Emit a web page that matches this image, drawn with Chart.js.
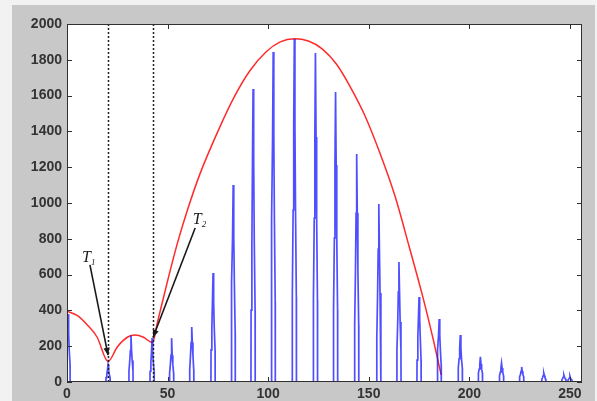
<!DOCTYPE html>
<html>
<head>
<meta charset="utf-8">
<script src="https://cdn.jsdelivr.net/npm/chart.js@4.4.1/dist/chart.umd.min.js"></script>
<style>
  html, body { margin: 0; padding: 0; background: #f2f2f2; }
  #wrap { position: absolute; left: 0; top: 0; width: 597px; height: 401px; }
</style>
</head>
<body>
<div id="wrap"><canvas id="spectrumChart" width="597" height="401"></canvas></div>
<script>
// spike clusters (centre, peak and the three shoulder levels)
const spikeCenters = [0.5, 20.4, 31.8, 42.3, 52, 62, 72.6, 82.6, 92.5, 102.5, 113, 123.5, 133.5, 144, 155, 165, 175, 185, 195.5, 205.5, 216, 226, 237, 247, 250];
const spikePeaks   = [380, 95, 260, 245, 245, 307, 609, 1100, 1637, 1844, 1916, 1838, 1620, 1274, 994, 670, 475, 352, 263, 140, 106, 84, 50, 39, 33];
const spikeMids    = [280, 65, 175, 165, 150, 220, 447, 810, 1229, 1374, 1436, 1369, 1212, 944, 743, 503, 358, 263, 190, 100, 78, 60, 36, 28, 22];
const spikeLows    = [180, 45, 120, 110, 100, 150, 300, 553, 776, 905, 961, 916, 804, 626, 497, 335, 251, 180, 130, 72, 55, 42, 25, 20, 15];
const spikeBases   = [100, 25, 60, 60, 50, 67, 179, 274, 402, 447, 475, 458, 402, 318, 246, 179, 123, 95, 78, 50, 35, 30, 15, 12, 10];

// red envelope curve
const envX = [0, 5, 10, 15, 20.4, 25, 30, 34, 38, 42.5, 45, 50, 55, 60, 66, 75, 83, 91, 99, 106, 113, 120, 127, 134, 141, 148, 156, 163, 170, 177, 182, 186];
const envY = [395, 372, 320, 250, 115, 196, 250, 262, 250, 220, 335, 565, 780, 965, 1160, 1400, 1590, 1740, 1845, 1900, 1918, 1905, 1860, 1775, 1645, 1490, 1265, 1040, 760, 470, 240, 40];

// dashed markers T1, T2
const markerX = [20.3, 42.6];

const xTickValues = [0, 50, 100, 150, 200, 250];
const yTickValues = [0, 200, 400, 600, 800, 1000, 1200, 1400, 1600, 1800, 2000];

// build the blue line from the cluster readings
const spikePoints = [];
spikeCenters.forEach((c, i) => {
    spikePoints.push({ x: c - 1.05, y: 0 });
    spikePoints.push({ x: c - 1.0, y: spikeBases[i] });
    spikePoints.push({ x: c - 0.6, y: spikeLows[i] });
    spikePoints.push({ x: c - 0.3, y: spikeMids[i] });
    spikePoints.push({ x: c, y: spikePeaks[i] });
    spikePoints.push({ x: c + 0.3, y: spikeMids[i] });
    spikePoints.push({ x: c + 0.6, y: spikeLows[i] });
    spikePoints.push({ x: c + 1.0, y: spikeBases[i] });
    spikePoints.push({ x: c + 1.05, y: 0 });
});
spikePoints.push({ x: 256, y: 0 });

const envPoints = envX.map((x, i) => ({ x: x, y: envY[i] }));

// matlab-ish frame: gray figure, white axes, inner ticks, dotted markers, arrows
const framePlugin = {
    id: 'frame',
    beforeDraw(chart) {
        const ctx = chart.ctx;
        const a = chart.chartArea;
        ctx.save();
        ctx.fillStyle = '#c8c8c8';
        ctx.fillRect(12, 5, 583, 396);
        ctx.fillStyle = '#ffffff';
        ctx.fillRect(a.left, a.top, a.right - a.left, a.bottom - a.top);
        ctx.restore();
    },
    afterDatasetsDraw(chart) {
        const ctx = chart.ctx;
        const a = chart.chartArea;
        const xs = chart.scales.x;
        const ys = chart.scales.y;
        ctx.save();

        // dotted vertical markers
        ctx.strokeStyle = '#202020';
        ctx.lineWidth = 1.5;
        ctx.setLineDash([2, 2]);
        markerX.forEach(v => {
            const px = Math.round(xs.getPixelForValue(v)) + 0.5;
            ctx.beginPath();
            ctx.moveTo(px, a.top);
            ctx.lineTo(px, a.bottom);
            ctx.stroke();
        });
        ctx.setLineDash([]);

        // arrows
        const arrow = (x0, y0, x1, y1) => {
            const p0x = xs.getPixelForValue(x0), p0y = ys.getPixelForValue(y0);
            const p1x = xs.getPixelForValue(x1), p1y = ys.getPixelForValue(y1);
            const ang = Math.atan2(p1y - p0y, p1x - p0x);
            ctx.strokeStyle = '#1a1a1a';
            ctx.fillStyle = '#1a1a1a';
            ctx.lineWidth = 1.6;
            ctx.beginPath();
            ctx.moveTo(p0x, p0y);
            ctx.lineTo(p1x, p1y);
            ctx.stroke();
            ctx.beginPath();
            ctx.moveTo(p1x, p1y);
            ctx.lineTo(p1x - 8 * Math.cos(ang - 0.4), p1y - 8 * Math.sin(ang - 0.4));
            ctx.lineTo(p1x - 8 * Math.cos(ang + 0.4), p1y - 8 * Math.sin(ang + 0.4));
            ctx.closePath();
            ctx.fill();
        };
        arrow(11.4, 654, 20.4, 150);
        arrow(63.7, 860, 42.8, 250);

        // labels T1, T2
        const label = (x, y, sub) => {
            const px = xs.getPixelForValue(x), py = ys.getPixelForValue(y);
            ctx.fillStyle = '#1a1a1a';
            ctx.textBaseline = 'alphabetic';
            ctx.textAlign = 'left';
            ctx.font = 'italic 16px "Liberation Serif"';
            ctx.fillText('T', px, py);
            ctx.font = 'italic 9px "Liberation Serif"';
            ctx.fillText(sub, px + 9, py + 3);
        };
        label(7.5, 672, '1');
        label(62.5, 885, '2');

        // axes box
        ctx.strokeStyle = '#303030';
        ctx.lineWidth = 1;
        ctx.strokeRect(a.left + 0.5, a.top + 0.5, a.right - a.left - 1, a.bottom - a.top - 1);

        // inner ticks on all four sides
        ctx.beginPath();
        xTickValues.forEach(v => {
            const px = Math.round(xs.getPixelForValue(v)) + 0.5;
            ctx.moveTo(px, a.bottom);
            ctx.lineTo(px, a.bottom - 5);
            ctx.moveTo(px, a.top);
            ctx.lineTo(px, a.top + 5);
        });
        yTickValues.forEach(v => {
            const py = Math.round(ys.getPixelForValue(v)) + 0.5;
            ctx.moveTo(a.left, py);
            ctx.lineTo(a.left + 5, py);
            ctx.moveTo(a.right, py);
            ctx.lineTo(a.right - 5, py);
        });
        ctx.stroke();
        ctx.restore();
    }
};

const tickFont = { family: '"Liberation Sans", Arial', size: 14, weight: 'bold' };

const ctx = document.getElementById('spectrumChart').getContext('2d');
const chart = new Chart(ctx, {
    type: 'scatter',
    data: {
        datasets: [{
            label: 'spectrum',
            data: spikePoints,
            showLine: true,
            borderColor: 'rgba(20, 20, 255, 0.75)',
            borderWidth: 1.7,
            pointRadius: 0,
            tension: 0
        }, {
            label: 'envelope',
            data: envPoints,
            showLine: true,
            borderColor: '#ff2a2a',
            borderWidth: 1.5,
            pointRadius: 0,
            cubicInterpolationMode: 'monotone'
        }]
    },
    options: {
        responsive: false,
        animation: false,
        layout: { padding: { left: 0, top: 24, right: 15, bottom: 0 } },
        plugins: {
            legend: { display: false },
            tooltip: { enabled: false }
        },
        scales: {
            x: {
                type: 'linear',
                min: 0,
                max: 256,
                grid: { display: false, drawTicks: false },
                border: { display: false },
                afterBuildTicks: (scale) => { scale.ticks = xTickValues.map(v => ({ value: v })); },
                afterFit: (scale) => { scale.height = 19; },
                ticks: {
                    autoSkip: false,
                    maxRotation: 0,
                    padding: 4,
                    color: '#333333',
                    font: tickFont,
                    callback: (v) => String(v)
                }
            },
            y: {
                type: 'linear',
                min: 0,
                max: 2000,
                grid: { display: false, drawTicks: false },
                border: { display: false },
                afterBuildTicks: (scale) => { scale.ticks = yTickValues.map(v => ({ value: v })); },
                afterFit: (scale) => { scale.width = 67; },
                ticks: {
                    autoSkip: false,
                    padding: 5,
                    color: '#333333',
                    font: tickFont,
                    callback: (v) => String(v)
                }
            }
        }
    },
    plugins: [framePlugin]
});
</script>
</body>
</html>
